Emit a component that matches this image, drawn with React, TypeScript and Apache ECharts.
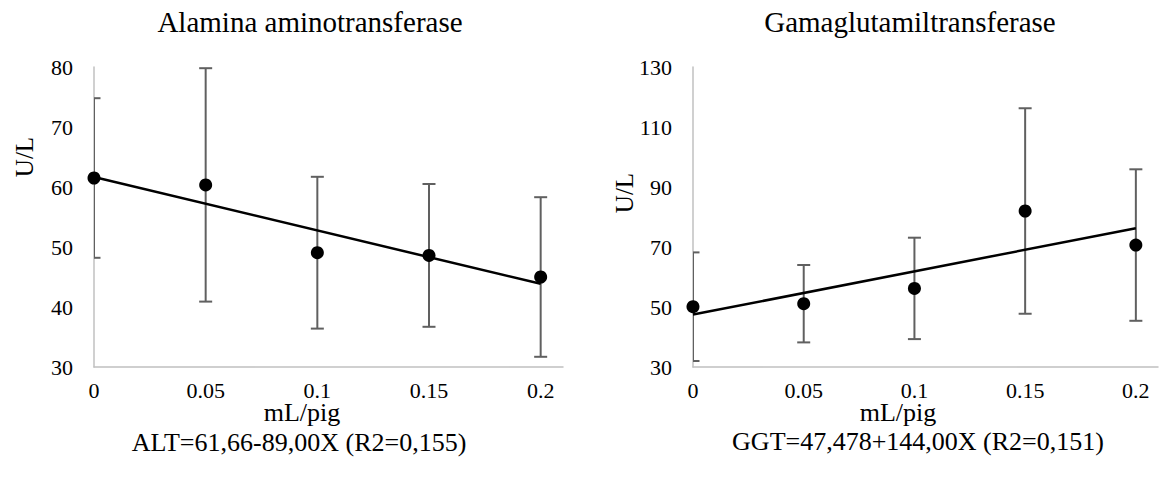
import React, { useEffect, useRef } from 'react';
import * as echarts from 'echarts';

// ---- data ----
const doses = [0, 0.05, 0.1, 0.15, 0.2];
const xTickValues = [0, 0.05, 0.1, 0.15, 0.2];

const altMean = [61.5, 60.35, 49.05, 48.6, 45.0];
const altSd = [13.3, 19.45, 12.65, 11.9, 13.3];
const altTrend = [[0, 61.66], [0.2, 43.86]];

const ggtMean = [50.1, 51.1, 56.2, 82.0, 70.65];
const ggtSd = [18.1, 12.9, 16.9, 34.25, 25.25];
const ggtTrend = [[0, 47.478], [0.2, 76.278]];

const altTitle = 'Alamina aminotransferase';
const ggtTitle = 'Gamaglutamiltransferase';
const altEquation = 'ALT=61,66-89,00X (R2=0,155)';
const ggtEquation = 'GGT=47,478+144,00X (R2=0,151)';
const xName = 'mL/pig';
const yName = 'U/L';

const FONT = '"Liberation Serif", "Times New Roman", serif';

function errorItem(params: any, api: any) {
  const x = api.value(0);
  const lo = api.value(1);
  const hi = api.value(2);
  const pTop = api.coord([x, hi]);
  const pBot = api.coord([x, lo]);
  const hw = 6.5;
  const style = { stroke: '#606060', lineWidth: 2 };
  return {
    type: 'group',
    children: [
      { type: 'line', shape: { x1: pTop[0], y1: pTop[1], x2: pBot[0], y2: pBot[1] }, style },
      { type: 'line', shape: { x1: pTop[0] - hw, y1: pTop[1], x2: pTop[0] + hw, y2: pTop[1] }, style },
      { type: 'line', shape: { x1: pBot[0] - hw, y1: pBot[1], x2: pBot[0] + hw, y2: pBot[1] }, style },
    ],
  };
}

function xAxisCfg(gridIndex: number) {
  return {
    type: 'value',
    gridIndex,
    min: 0,
    max: 0.21,
    interval: 0.05,
    axisLine: { show: true, onZero: false, lineStyle: { color: '#c0c0c0', width: 1.5 } },
    axisTick: { show: false },
    splitLine: { show: false },
    axisLabel: {
      color: '#000',
      fontFamily: FONT,
      fontSize: 22,
      lineHeight: 18,
      margin: 14,
      formatter: (v: number) => {
        const hit = xTickValues.find((t) => Math.abs(t - v) < 1e-9);
        return hit === undefined ? '' : String(hit);
      },
    },
  };
}

function yAxisCfg(gridIndex: number, min: number, max: number, interval: number) {
  return {
    type: 'value',
    gridIndex,
    min,
    max,
    interval,
    axisLine: { show: true, onZero: false, lineStyle: { color: '#c0c0c0', width: 1.5 } },
    axisTick: { show: false },
    splitLine: { show: false },
    axisLabel: { color: '#000', fontFamily: FONT, fontSize: 22, margin: 21 },
  };
}

function txt(text: string, x: number, y: number, size: number, rotation = 0, lineHeight?: number) {
  return {
    type: 'text',
    x,
    y,
    rotation,
    silent: true,
    style: {
      text,
      fill: '#000',
      fontFamily: FONT,
      fontSize: size,
      lineHeight: lineHeight ?? size,
      align: 'center',
      verticalAlign: 'middle',
    },
  };
}

export default function App() {
  const ref = useRef<HTMLDivElement>(null);

  useEffect(() => {
    document.body.style.margin = '0';
    if (!ref.current) return;
    const chart = echarts.init(ref.current, undefined, { renderer: 'svg' });

    const altErr = doses.map((d, i) => [d, altMean[i] - altSd[i], altMean[i] + altSd[i]]);
    const ggtErr = doses.map((d, i) => [d, ggtMean[i] - ggtSd[i], ggtMean[i] + ggtSd[i]]);
    const altPts = doses.map((d, i) => [d, altMean[i]]);
    const ggtPts = doses.map((d, i) => [d, ggtMean[i]]);

    const scatter = (idx: number, data: number[][]) => ({
      type: 'scatter',
      xAxisIndex: idx,
      yAxisIndex: idx,
      data,
      symbolSize: 13,
      itemStyle: { color: '#000', opacity: 1 },
      z: 4,
    });
    const trend = (idx: number, data: number[][]) => ({
      type: 'line',
      xAxisIndex: idx,
      yAxisIndex: idx,
      data,
      symbol: 'none',
      lineStyle: { color: '#000', width: 2.5 },
      z: 3,
    });
    const errs = (idx: number, data: number[][]) => ({
      type: 'custom',
      xAxisIndex: idx,
      yAxisIndex: idx,
      clip: true,
      renderItem: errorItem,
      data,
      z: 2,
    });

    chart.setOption({
      animation: false,
      backgroundColor: '#fff',
      grid: [
        { left: 94, top: 67, width: 469, height: 300 },
        { left: 693, top: 67, width: 469, height: 300 },
      ],
      xAxis: [xAxisCfg(0), xAxisCfg(1)],
      yAxis: [yAxisCfg(0, 30, 80, 10), yAxisCfg(1, 30, 130, 20)],
      series: [
        errs(0, altErr),
        trend(0, altTrend),
        scatter(0, altPts),
        errs(1, ggtErr),
        trend(1, ggtTrend),
        scatter(1, ggtPts),
      ],
      graphic: [
        txt(altTitle, 310, 22, 29),
        txt(ggtTitle, 910, 22, 29),
        txt(yName, 24, 157, 25, Math.PI / 2),
        txt(yName, 624, 193, 25, Math.PI / 2),
        txt(xName, 302, 412, 26, 0, 20),
        txt(xName, 898, 412, 26, 0, 20),
        txt(altEquation, 299, 442, 26),
        txt(ggtEquation, 918, 441, 26),
      ],
    });

    return () => chart.dispose();
  }, []);

  return <div ref={ref} style={{ width: 1161, height: 481 }} />;
}
